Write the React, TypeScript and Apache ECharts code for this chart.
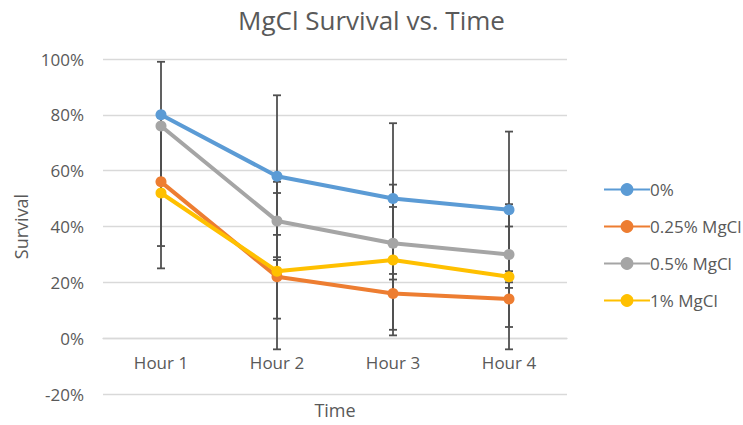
import React, { useEffect, useRef } from "react";
import * as echarts from "echarts";

const categories = ["Hour 1", "Hour 2", "Hour 3", "Hour 4"];
const seriesNames = ["0%", "0.25% MgCl", "0.5% MgCl", "1% MgCl"];
const values0 = [80, 58, 50, 46];
const values025 = [56, 22, 16, 14];
const values05 = [76, 42, 34, 30];
const values1 = [52, 24, 28, 22];
const err0 = [1, 29, 27, 28];
const err025 = [23, 15, 13, 10];
const err05 = [23, 14, 13, 10];
const err1 = [27, 28, 27, 26];
const yTicks = { min: -20, max: 100, interval: 20 };

const colors = ["#5B9BD5", "#ED7D31", "#A5A5A5", "#FFC000"];
const FONT = "'Open Sans', sans-serif";
const TEXT = "#595959";

const W = 743;
const H = 425;
const GRID = { left: 103, right: 176, top: 59, bottom: 31 };

export default function App() {
  const ref = useRef<HTMLDivElement>(null);
  useEffect(() => {
    if (!ref.current) return;
    const chart = echarts.init(ref.current, undefined, { renderer: "svg" });
    const allValues = [values0, values025, values05, values1];
    const allErr = [err0, err025, err05, err1];

    // category axis crosses the value axis at 0 (as in the original)
    const gridH = H - GRID.top - GRID.bottom;
    const zeroOffset = -gridH * (0 - yTicks.min) / (yTicks.max - yTicks.min);

    const lineSeries = allValues.map((vals, i) => ({
      name: seriesNames[i],
      type: "line",
      data: vals,
      symbol: "circle",
      symbolSize: 11,
      z: 3,
      lineStyle: { width: 4, color: colors[i] },
      itemStyle: { color: colors[i] },
    }));

    const errSeries = allValues.map((vals, i) => ({
      name: "err-" + seriesNames[i],
      type: "custom",
      z: 2,
      silent: true,
      data: vals.map((v, j) => [j, v - allErr[i][j], v + allErr[i][j]]),
      renderItem: (params: any, api: any) => {
        const x = api.value(0);
        const lo = api.coord([x, api.value(1)]);
        const hi = api.coord([x, api.value(2)]);
        const cap = 4;
        const style = { stroke: "#505050", lineWidth: 1.8 };
        return {
          type: "group",
          children: [
            { type: "line", shape: { x1: hi[0], y1: hi[1], x2: lo[0], y2: lo[1] }, style },
            { type: "line", shape: { x1: hi[0] - cap, y1: hi[1], x2: hi[0] + cap, y2: hi[1] }, style },
            { type: "line", shape: { x1: lo[0] - cap, y1: lo[1], x2: lo[0] + cap, y2: lo[1] }, style },
          ],
        };
      },
    }));

    chart.setOption({
      animation: false,
      backgroundColor: "#ffffff",
      textStyle: { fontFamily: FONT },
      title: {
        text: "MgCl Survival vs. Time",
        left: "center",
        top: 2,
        textStyle: { fontFamily: FONT, fontSize: 26, fontWeight: "normal", color: TEXT },
      },
      legend: {
        data: seriesNames,
        orient: "vertical",
        left: 598,
        top: 176,
        itemWidth: 46,
        itemHeight: 16,
        itemGap: 20,
        textStyle: { fontFamily: FONT, fontSize: 17, color: TEXT, padding: [0, 0, 0, -5] },
      },
      grid: { ...GRID, outerBoundsMode: "none", containLabel: false },
      xAxis: {
        type: "category",
        data: categories,
        boundaryGap: true,
        offset: zeroOffset,
        name: "Time",
        nameLocation: "middle",
        nameGap: 63,
        nameTextStyle: { fontFamily: FONT, fontSize: 18, color: TEXT },
        axisLine: { onZero: false, lineStyle: { color: "#D9D9D9", width: 1.3 } },
        axisTick: { show: false },
        axisLabel: { margin: 16, fontFamily: FONT, fontSize: 17, color: TEXT },
      },
      yAxis: {
        type: "value",
        min: yTicks.min,
        max: yTicks.max,
        interval: yTicks.interval,
        name: "Survival",
        nameLocation: "middle",
        nameGap: 72,
        nameTextStyle: { fontFamily: FONT, fontSize: 18, color: TEXT },
        axisLine: { show: false },
        axisTick: { show: false },
        splitLine: { lineStyle: { color: "#D9D9D9", width: 1.3 } },
        axisLabel: { margin: 19, formatter: "{value}%", fontFamily: FONT, fontSize: 17, color: TEXT },
      },
      series: [...errSeries, ...lineSeries],
    });
    return () => chart.dispose();
  }, []);
  return (
    <div
      ref={ref}
      style={{ position: "fixed", left: 0, top: 0, width: W, height: H }}
    />
  );
}
